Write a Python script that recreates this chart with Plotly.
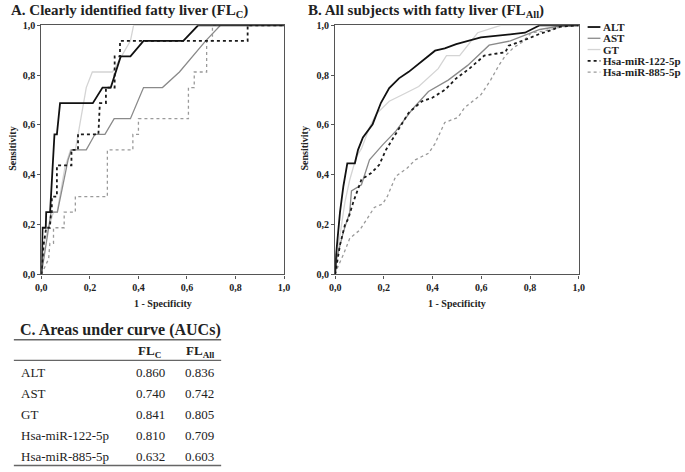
import plotly.graph_objects as go

W, H = 685, 472
SERIF = "Liberation Serif, Times New Roman, serif"

series_names = ["ALT", "AST", "GT", "Hsa-miR-122-5p", "Hsa-miR-885-5p"]

# Panel A: clearly identified fatty liver (FL_C)
a_alt_x = [0, 0.003, 0.005, 0.018, 0.02, 0.036, 0.043, 0.05, 0.054, 0.064, 0.077, 0.084, 0.212, 0.252, 0.286, 0.327, 0.367, 0.421, 0.585, 0.646, 1]
a_alt_y = [0, 0.125, 0.1875, 0.1875, 0.25, 0.25, 0.375, 0.5, 0.5625, 0.5625, 0.6875, 0.6875, 0.6875, 0.75, 0.75, 0.875, 0.875, 0.9375, 0.9375, 1.0, 1]
a_ast_x = [0, 0.01, 0.02, 0.04, 0.066, 0.11, 0.124, 0.185, 0.221, 0.262, 0.30, 0.367, 0.421, 0.499, 0.569, 0.677, 0.738, 1]
a_ast_y = [0, 0.0625, 0.125, 0.25, 0.25, 0.46, 0.5, 0.5, 0.5625, 0.5625, 0.625, 0.625, 0.75, 0.75, 0.8125, 0.9375, 1.0, 1]
a_gt_x = [0, 0.01, 0.03, 0.05, 0.065, 0.097, 0.12, 0.14, 0.151, 0.175, 0.185, 0.21, 0.293, 0.33, 0.367, 0.38, 1]
a_gt_y = [0, 0.125, 0.1875, 0.25, 0.25, 0.43, 0.5, 0.5, 0.56, 0.69, 0.75, 0.8125, 0.8125, 0.875, 0.9375, 1.0, 1]
a_122_x = [0, 0.005, 0.01, 0.02, 0.035, 0.04, 0.043, 0.043, 0.064, 0.064, 0.124, 0.124, 0.151, 0.151, 0.235, 0.241, 0.266, 0.266, 0.302, 0.302, 0.324, 0.324, 0.85, 0.85, 1]
a_122_y = [0, 0.0625, 0.125, 0.1875, 0.1875, 0.25, 0.25, 0.3125, 0.3125, 0.4375, 0.4375, 0.5, 0.5, 0.5625, 0.5625, 0.6875, 0.6875, 0.75, 0.75, 0.875, 0.875, 0.9375, 0.9375, 1, 1]
a_885_x = [0, 0.03, 0.035, 0.05, 0.05, 0.094, 0.094, 0.14, 0.14, 0.272, 0.272, 0.377, 0.377, 0.40, 0.40, 0.606, 0.606, 0.63, 0.63, 0.681, 0.681, 0.705, 0.705, 1]
a_885_y = [0, 0.0625, 0.125, 0.125, 0.1875, 0.1875, 0.25, 0.25, 0.3125, 0.3125, 0.5, 0.5, 0.5625, 0.5625, 0.625, 0.625, 0.75, 0.75, 0.8125, 0.8125, 0.9375, 0.9375, 1, 1]

# Panel B: all subjects with fatty liver (FL_All)
b_alt_x = [0, 0.004, 0.02, 0.034, 0.05, 0.081, 0.094, 0.114, 0.154, 0.188, 0.222, 0.262, 0.302, 0.41, 0.45, 0.497, 0.598, 0.779, 0.84, 1]
b_alt_y = [0, 0.08, 0.25, 0.355, 0.446, 0.446, 0.5, 0.55, 0.603, 0.689, 0.748, 0.787, 0.813, 0.898, 0.907, 0.924, 0.951, 0.97, 1.0, 1]
b_ast_x = [0, 0.007, 0.034, 0.06, 0.067, 0.108, 0.141, 0.195, 0.249, 0.316, 0.383, 0.464, 0.544, 0.632, 0.719, 0.786, 0.84, 0.907, 1]
b_ast_y = [0, 0.067, 0.171, 0.25, 0.335, 0.36, 0.46, 0.52, 0.575, 0.662, 0.734, 0.78, 0.839, 0.92, 0.937, 0.963, 0.983, 0.994, 1]
b_gt_x = [0, 0.005, 0.02, 0.04, 0.06, 0.087, 0.108, 0.141, 0.168, 0.222, 0.276, 0.343, 0.423, 0.457, 0.511, 0.585, 0.68, 1]
b_gt_y = [0, 0.07, 0.158, 0.289, 0.38, 0.472, 0.505, 0.59, 0.643, 0.695, 0.721, 0.754, 0.826, 0.878, 0.878, 0.97, 1.0, 1]
b_122_x = [0, 0.004, 0.02, 0.04, 0.054, 0.074, 0.108, 0.148, 0.181, 0.208, 0.248, 0.302, 0.356, 0.397, 0.451, 0.497, 0.551, 0.612, 0.699, 0.712, 0.786, 0.833, 0.894, 0.921, 1]
b_122_y = [0, 0.027, 0.119, 0.198, 0.224, 0.289, 0.381, 0.407, 0.44, 0.499, 0.564, 0.649, 0.695, 0.708, 0.741, 0.787, 0.826, 0.878, 0.892, 0.918, 0.944, 0.963, 0.983, 0.994, 1]
b_885_x = [0, 0.004, 0.034, 0.06, 0.101, 0.128, 0.161, 0.195, 0.215, 0.249, 0.296, 0.329, 0.383, 0.41, 0.45, 0.504, 0.531, 0.598, 0.638, 0.672, 0.699, 0.733, 0.766, 0.806, 0.853, 0.934, 1]
b_885_y = [0, 0.014, 0.08, 0.145, 0.178, 0.217, 0.269, 0.283, 0.315, 0.394, 0.427, 0.46, 0.486, 0.525, 0.61, 0.63, 0.669, 0.721, 0.78, 0.839, 0.878, 0.911, 0.931, 0.97, 0.976, 0.994, 1]

tick_vals = [0, 0.2, 0.4, 0.6, 0.8, 1.0]
tick_text = ["0,0", "0,2", "0,4", "0,6", "0,8", "1,0"]

# Table C
auc_fl_c = ["0.860", "0.740", "0.841", "0.810", "0.632"]
auc_fl_all = ["0.836", "0.742", "0.805", "0.709", "0.603"]

styles = [
    dict(color="#111111", width=1.8, dash="solid"),
    dict(color="#8a8a8a", width=1.3, dash="solid"),
    dict(color="#d4d4d4", width=1.3, dash="solid"),
    dict(color="#1a1a1a", width=1.8, dash="dot"),
    dict(color="#9a9a9a", width=1.3, dash="dot"),
]

def px(x):
    return x / W

def py(y):
    return 1 - y / H

fig = go.Figure()
panel_a = [(a_alt_x, a_alt_y), (a_ast_x, a_ast_y), (a_gt_x, a_gt_y), (a_122_x, a_122_y), (a_885_x, a_885_y)]
panel_b = [(b_alt_x, b_alt_y), (b_ast_x, b_ast_y), (b_gt_x, b_gt_y), (b_122_x, b_122_y), (b_885_x, b_885_y)]
order = [2, 1, 4, 3, 0]
for i in order:
    xs, ys = panel_a[i]
    fig.add_trace(go.Scatter(x=xs, y=ys, mode="lines", line=styles[i], xaxis="x", yaxis="y", showlegend=False, name=series_names[i]))
for i in order:
    xs, ys = panel_b[i]
    fig.add_trace(go.Scatter(x=xs, y=ys, mode="lines", line=styles[i], xaxis="x2", yaxis="y2", showlegend=False, name=series_names[i]))

ax_common = dict(range=[0, 1], tickvals=tick_vals, ticktext=tick_text, showgrid=False, zeroline=False,
                 showline=True, linecolor="#555555", linewidth=1.2, mirror=True, ticks="outside",
                 ticklen=3, tickcolor="#555555",
                 tickfont=dict(family=SERIF, size=10, color="#222222", weight="bold"))

y0, y1 = py(275.3), py(20.7)
fig.update_layout(
    width=W, height=H, margin=dict(l=0, r=0, t=0, b=0),
    paper_bgcolor="white", plot_bgcolor="white",
    xaxis=dict(domain=[px(36), px(283)], anchor="y", **ax_common),
    yaxis=dict(domain=[y0, y1], anchor="x", **ax_common),
    xaxis2=dict(domain=[px(335), px(583)], anchor="y2", **ax_common),
    yaxis2=dict(domain=[y0, y1], anchor="x2", **ax_common),
    showlegend=False,
)

ann = []
shapes = []
def text(x, y, s, size=12, bold=False, xanchor="left", textangle=0, color="#222222"):
    ann.append(dict(x=px(x), y=py(y), xref="paper", yref="paper", text=s, showarrow=False,
                    xanchor=xanchor, yanchor="middle", textangle=textangle,
                    font=dict(family=SERIF, size=size, color=color, weight="bold" if bold else "normal")))

# panel titles
text(3, 6, "A. Clearly identified fatty liver (FL<sub>C</sub>)", size=15, bold=True)
text(305, 6, "B. All subjects with fatty liver (FL<sub>All</sub>)", size=15, bold=True)
# axis titles
text(7, 147, "Sensitivity", size=10, bold=True, xanchor="center", textangle=-90)
text(304, 147, "Sensitivity", size=10, bold=True, xanchor="center", textangle=-90)
text(160, 305, "1 - Specificity", size=10, bold=True, xanchor="center")
text(459, 305, "1 - Specificity", size=10, bold=True, xanchor="center")

# legend
for i, name in enumerate(series_names):
    yy = 22.5 + i * 11.5
    shapes.append(dict(type="line", xref="paper", yref="paper", x0=px(592), x1=px(605), y0=py(yy), y1=py(yy),
                       line=dict(color=styles[i]["color"], width=styles[i]["width"], dash=styles[i]["dash"])))
    text(606, yy, name, size=11, bold=True)

# table C
text(12, 332, "C. Areas under curve (AUCs)", size=16, bold=True)
for yy, wdt in [(342, 1.6), (363, 1.2), (470.5, 1.6)]:
    shapes.append(dict(type="line", xref="paper", yref="paper", x0=px(8), x1=px(219), y0=py(yy), y1=py(yy),
                       line=dict(color="#666666", width=wdt)))
text(146, 354, "FL<sub>C</sub>", size=13, bold=True, xanchor="center")
text(198, 354, "FL<sub>All</sub>", size=13, bold=True, xanchor="center")
row_y = [375, 397, 418, 440, 461]
for i, name in enumerate(series_names):
    text(13, row_y[i], name, size=13)
    text(147, row_y[i], auc_fl_c[i], size=13, xanchor="center")
    text(197, row_y[i], auc_fl_all[i], size=13, xanchor="center")

fig.update_layout(annotations=ann, shapes=shapes)
fig.write_html("out.html", config={"displayModeBar": False},
               post_script="document.body.style.margin='0';document.body.style.overflow='hidden';")
